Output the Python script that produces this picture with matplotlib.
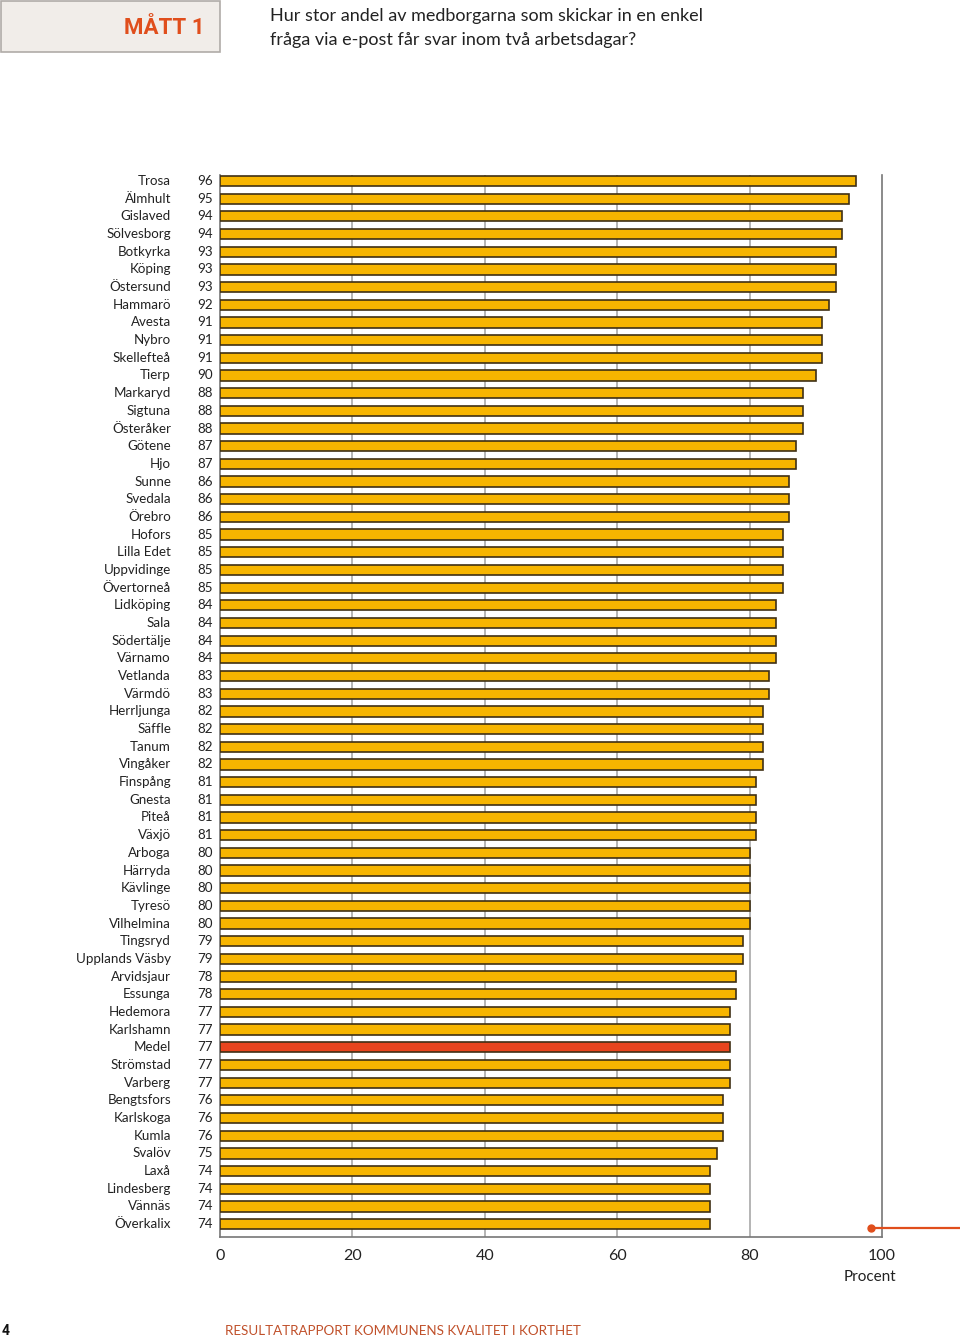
import matplotlib
matplotlib.use("Agg")
import matplotlib.pyplot as plt
from matplotlib.transforms import blended_transform_factory
from matplotlib.patches import Rectangle
from matplotlib.lines import Line2D

plt.rcParams['font.family'] = ['Lato', 'DejaVu Sans']

names = ["Trosa", "Älmhult", "Gislaved", "Sölvesborg", "Botkyrka", "Köping", "Östersund",
         "Hammarö", "Avesta", "Nybro", "Skellefteå", "Tierp", "Markaryd", "Sigtuna",
         "Österåker", "Götene", "Hjo", "Sunne", "Svedala", "Örebro", "Hofors", "Lilla Edet",
         "Uppvidinge", "Övertorneå", "Lidköping", "Sala", "Södertälje", "Värnamo", "Vetlanda",
         "Värmdö", "Herrljunga", "Säffle", "Tanum", "Vingåker", "Finspång", "Gnesta", "Piteå",
         "Växjö", "Arboga", "Härryda", "Kävlinge", "Tyresö", "Vilhelmina", "Tingsryd",
         "Upplands Väsby", "Arvidsjaur", "Essunga", "Hedemora", "Karlshamn", "Medel",
         "Strömstad", "Varberg", "Bengtsfors", "Karlskoga", "Kumla", "Svalöv", "Laxå",
         "Lindesberg", "Vännäs", "Överkalix"]
values = [96, 95, 94, 94, 93, 93, 93, 92, 91, 91, 91, 90, 88, 88, 88, 87, 87, 86, 86, 86,
          85, 85, 85, 85, 84, 84, 84, 84, 83, 83, 82, 82, 82, 82, 81, 81, 81, 81, 80, 80,
          80, 80, 80, 79, 79, 78, 78, 77, 77, 77, 77, 77, 76, 76, 76, 75, 74, 74, 74, 74]
highlight = "Medel"
xticks = [0, 20, 40, 60, 80, 100]
title = "Hur stor andel av medborgarna som skickar in en enkel\nfråga via e-post får svar inom två arbetsdagar?"

W, H = 960, 1340
fig = plt.figure(figsize=(W / 100, H / 100), dpi=100)
ax = fig.add_axes([220 / W, 1 - 1237 / H, (882 - 220) / W, (1237 - 175) / H])

ypos = list(range(len(names)))
colors = ["#e8451e" if n == highlight else "#f7b500" for n in names]
ax.barh(ypos, values, height=0.58, color=colors, edgecolor="#3f3015", linewidth=1.2, zorder=3)
ax.set_ylim(len(names) - 1 + 0.73, -0.34)
ax.set_xlim(0, 100)

for x in [20, 40, 60, 80]:
    ax.axvline(x, color="#a8a8a8", linewidth=1.2, zorder=1)
ax.spines['top'].set_visible(False)
for s in ['left', 'bottom', 'right']:
    ax.spines[s].set_color("#777777")
    ax.spines[s].set_linewidth(1.2)
ax.set_yticks([])
ax.set_xticks(xticks)
ax.set_xticklabels([str(t) for t in xticks], fontsize=11.5, color="#222222")
ax.tick_params(axis='x', length=0, pad=9)

tr = blended_transform_factory(fig.transFigure, ax.transData)
for i, (n, v) in enumerate(zip(names, values)):
    ax.text(171 / W, i, n, transform=tr, ha='right', va='center', fontsize=9.6, color="#222222")
    ax.text(213 / W, i, str(v), transform=tr, ha='right', va='center', fontsize=9.6, color="#222222")

fig.text(896 / W, 1 - 1277 / H, "Procent", ha='right', va='center', fontsize=11, color="#222222")

# header box
fig.patches.append(Rectangle((1 / W, 1 - 52 / H), 219 / W, 51 / H, transform=fig.transFigure,
                             facecolor="#f1ede9", edgecolor="#b0aca8", linewidth=1.2))
fig.text(205 / W, 1 - 28 / H, "MÅTT 1", ha='right', va='center', fontsize=16, fontweight='bold',
         family=['Roboto', 'DejaVu Sans'], color="#e04e1c")
fig.text(270 / W, 1 - 28 / H, title, ha='left', va='center', fontsize=13, color="#222222",
         linespacing=1.6)

# orange marker line at bottom right
fig.lines.append(Line2D([871 / W, 1.0], [1 - 1228 / H, 1 - 1228 / H], transform=fig.transFigure,
                        color="#e04e1c", linewidth=1.6))
fig.lines.append(Line2D([871 / W], [1 - 1228 / H], transform=fig.transFigure, marker='o',
                        markersize=5, color="#e04e1c"))

# footer
fig.text(2 / W, 1 - 1331 / H, "4", ha='left', va='center', fontsize=10, fontweight='bold',
         family=['Roboto', 'DejaVu Sans'], color="#111111")
fig.text(225 / W, 1 - 1331 / H, "RESULTATRAPPORT KOMMUNENS KVALITET I KORTHET", ha='left', va='center',
         fontsize=9.6, color="#c0502a")

fig.savefig("out.png", dpi=100)
